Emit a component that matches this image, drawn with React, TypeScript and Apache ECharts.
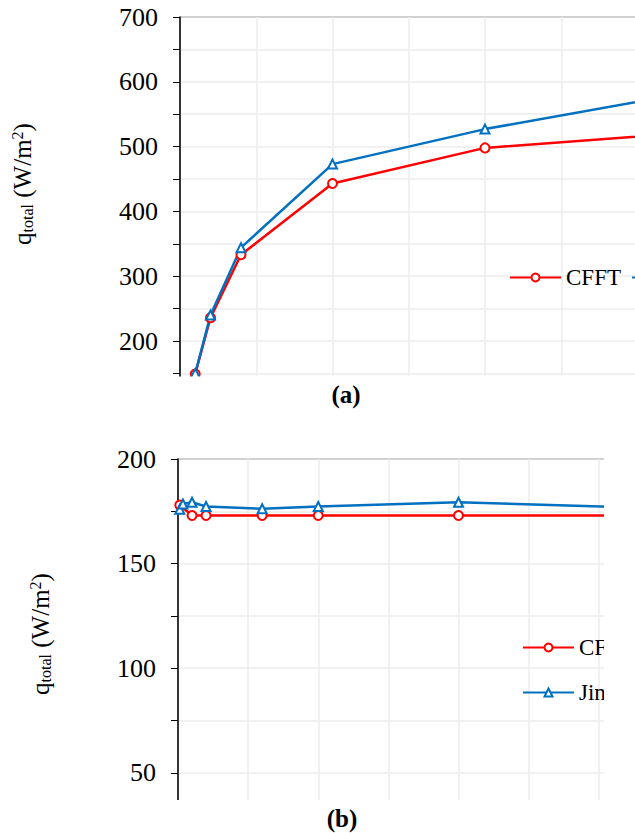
import React, { useEffect, useRef } from "react";
import * as echarts from "echarts";

// Panel (a)
const xA = [0.2, 0.4, 0.8, 2, 4, 8];
const cfftA = [149, 236, 333, 443, 498, 533];
const jinA = [150, 240, 344, 473, 527, 611];

// Panel (b)
const xCfftB = [0.025, 0.2, 0.4, 1.2, 2, 4, 8];
const cfftB = [178, 173, 173, 173, 173, 173, 173];
const xJinB = [0.025, 0.07, 0.2, 0.4, 1.2, 2, 4, 8];
const jinB = [176, 178.5, 179.3, 177.3, 176.2, 177.3, 179.3, 175.3];

const seriesNames = ["CFFT", "Jin et al."];
const panelLabels = ["(a)", "(b)"];
const yNameText = "{m|q}{s|total}{m| (W/m}{p|2}{m|)}";

const FONT = "Liberation Serif, Times New Roman, serif";
const RED = "#ff0000";
const BLUE = "#0070c0";
const GRIDC = "#ececec";

const zip = (xs: number[], ys: number[]) => xs.map((x, i) => [x, ys[i]]);

export default function App() {
  const ref = useRef<HTMLDivElement>(null);
  useEffect(() => {
    const chart = echarts.init(ref.current!, null, { renderer: "svg" });
    const splitLine = { show: true, lineStyle: { color: GRIDC, width: 1.5 } };
    const xAxisBase = {
      type: "value" as const,
      min: 0,
      max: 8,
      interval: 1,
      axisLine: { show: false },
      axisTick: { show: false },
      axisLabel: { show: false },
      splitLine,
    };
    const yAxisBase = {
      type: "value" as const,
      axisLine: { show: true, lineStyle: { color: "#000", width: 1.5 } },
      axisTick: { show: true, length: 7, lineStyle: { color: "#000", width: 1 } },
      splitLine,
    };
    const rich = {
      m: { fontSize: 25, fontFamily: FONT, color: "#000" },
      s: { fontSize: 16, fontFamily: FONT, color: "#000", verticalAlign: "bottom", padding: [10, 0, 0, 0] },
      p: { fontSize: 16, fontFamily: FONT, color: "#000", verticalAlign: "top", padding: [0, 0, 10, 0] },
    };
    const lineSeries = (name: string, data: number[][], gi: number, color: string, symbol: string, symbolSize: number) => ({
      type: "line",
      name,
      data,
      xAxisIndex: gi,
      yAxisIndex: gi,
      color,
      symbol,
      symbolSize,
      showAllSymbol: true,
      clip: false,
      lineStyle: { color, width: 2.5 },
      itemStyle: { color, borderColor: color, borderWidth: 2 },
    });
    const legendText = { fontFamily: FONT, fontSize: 23, color: "#000" };
    chart.setOption({
      animation: false,
      backgroundColor: "#fff",
      grid: [
        { left: 180, top: 17, width: 610, height: 388.8, outerBoundsMode: "none", containLabel: false, show: true, borderColor: "#000", borderWidth: 1, backgroundColor: "transparent" },
        { left: 178, top: 459, width: 561, height: 366.1, outerBoundsMode: "none", containLabel: false, show: true, borderColor: "#000", borderWidth: 1, backgroundColor: "transparent" },
      ],
      xAxis: [
        { ...xAxisBase, gridIndex: 0 },
        { ...xAxisBase, gridIndex: 1 },
      ],
      yAxis: [
        {
          ...yAxisBase,
          gridIndex: 0,
          min: 100,
          max: 700,
          interval: 50,
          axisLabel: {
            fontFamily: FONT,
            fontSize: 26,
            color: "#000",
            margin: 22,
            formatter: (v: number) => (v % 100 === 0 && v >= 200 ? String(v) : ""),
          },
        },
        {
          ...yAxisBase,
          gridIndex: 1,
          min: 25,
          max: 200,
          interval: 25,
          axisLabel: {
            fontFamily: FONT,
            fontSize: 26,
            color: "#000",
            margin: 22,
            formatter: (v: number) => (v % 50 === 0 && v >= 50 ? String(v) : ""),
          },
        },
      ],
      legend: [
        {
          data: seriesNames,
          orient: "horizontal",
          left: 504,
          top: 261,
          width: 600,
          itemWidth: 51,
          itemHeight: 10,
          itemGap: 10,
          textStyle: legendText,
        },
        {
          data: seriesNames,
          orient: "vertical",
          left: 517,
          top: 631,
          itemWidth: 51,
          itemHeight: 10,
          itemGap: 22,
          textStyle: legendText,
        },
      ],
      series: [
        lineSeries(seriesNames[0], zip(xA, cfftA), 0, RED, "emptyCircle", 9),
        lineSeries(seriesNames[1], zip(xA, jinA), 0, BLUE, "emptyTriangle", 9),
        lineSeries(seriesNames[0], zip(xCfftB, cfftB), 1, RED, "emptyCircle", 9),
        lineSeries(seriesNames[1], zip(xJinB, jinB), 1, BLUE, "emptyTriangle", 9),
      ],
      graphic: [
        { type: "rect", z: 100, shape: { x: 0, y: 376.5, width: 635, height: 440 - 376.5 }, style: { fill: "#fff" } },
        { type: "rect", z: 100, shape: { x: 0, y: 800, width: 635, height: 40 }, style: { fill: "#fff" } },
        { type: "rect", z: 100, shape: { x: 604, y: 440, width: 40, height: 400 }, style: { fill: "#fff" } },
        {
          type: "text", z: 101, x: 346, y: 394,
          style: { text: panelLabels[0], font: `bold 25px ${FONT}`, fill: "#000", align: "center", verticalAlign: "middle" },
        },
        {
          type: "text", z: 101, x: 342, y: 818,
          style: { text: panelLabels[1], font: `bold 25px ${FONT}`, fill: "#000", align: "center", verticalAlign: "middle" },
        },
        {
          type: "text", z: 101, x: 22, y: 184, rotation: Math.PI / 2,
          style: { text: yNameText, rich, align: "center", verticalAlign: "middle" },
        },
        {
          type: "text", z: 101, x: 40, y: 634, rotation: Math.PI / 2,
          style: { text: yNameText, rich, align: "center", verticalAlign: "middle" },
        },
      ],
    });
    return () => chart.dispose();
  }, []);
  return <div ref={ref} style={{ position: "fixed", left: 0, top: 0, width: 635, height: 833 }} />;
}
